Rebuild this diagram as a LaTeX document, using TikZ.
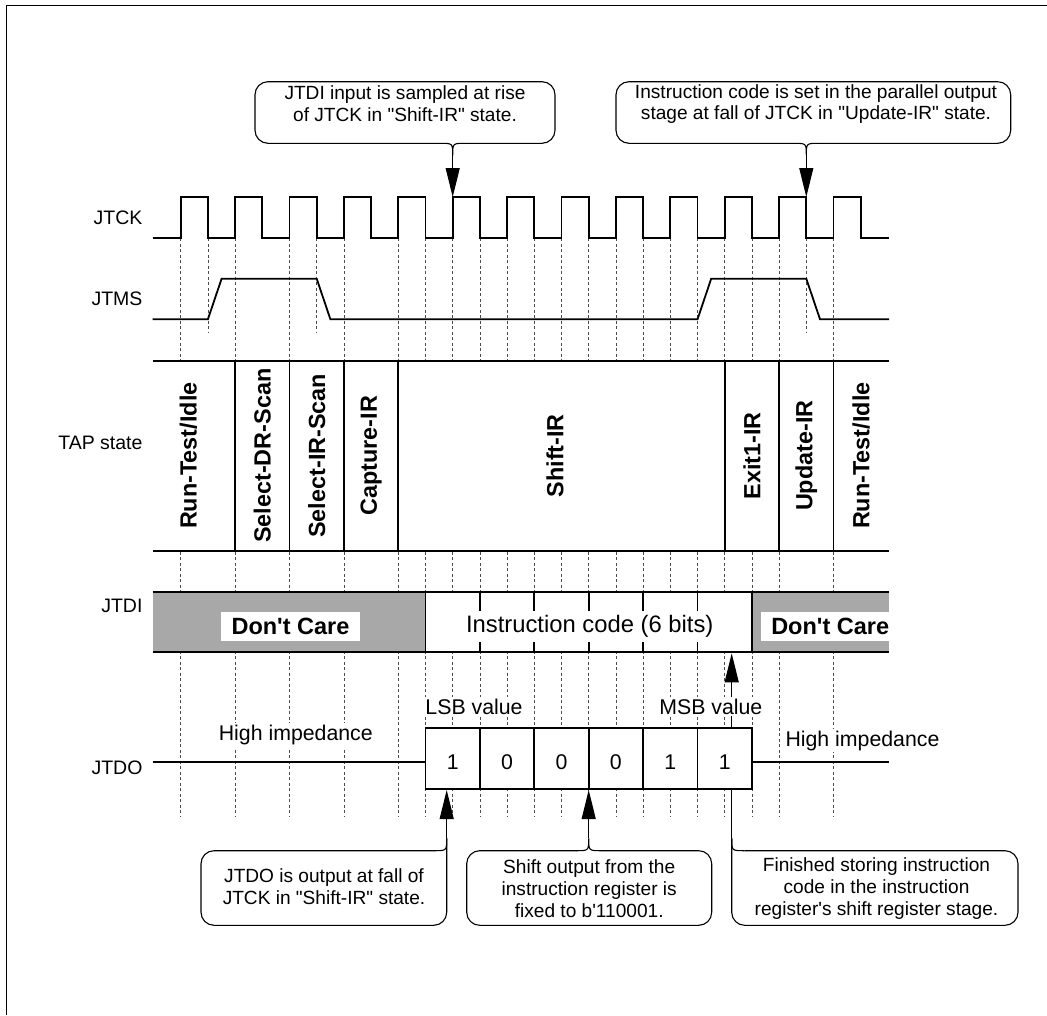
\documentclass[tikz,border=0pt]{standalone}
\usepackage{fontspec}
\setmainfont{Liberation Sans}
\usetikzlibrary{arrows.meta,calc}
\definecolor{dcgray}{HTML}{A8A8A8}

\begin{document}
\begin{tikzpicture}[x=1pt, y=-1pt,
    sig/.style={line width=1.8pt},
    grid/.style={line width=0.7pt, black!70, dash pattern=on 3pt off 2.5pt},
    note/.style={line width=1.1pt, rounded corners=13pt},
    notch/.style={line width=1.1pt},
    ptr/.style={line width=1.1pt, -{Triangle[length=29pt,width=14pt]}},
    signame/.style={anchor=east, font=\fontsize{19.5}{24}\selectfont},
    notetext/.style={align=center, font=\fontsize{19.1}{21.8}\selectfont},
    tapname/.style={rotate=90, font=\fontsize{23.4}{28}\selectfont\bfseries},
    lbl/.style={fill=white, inner sep=2pt, font=\fontsize{21.3}{25}\selectfont},
    bitval/.style={font=\fontsize{21.3}{25}\selectfont},
    dontcare/.style={fill=white, inner sep=0pt, minimum width=139pt, minimum height=28.4pt, font=\fontsize{23.5}{28}\selectfont\bfseries}
]
\useasboundingbox (0,0) rectangle (1047,1015);

% Frame
\draw[line width=1pt] (6.5,1015) -- (6.5,5) -- (1047,5);

% Dashed guides at clock edges
\foreach \k in {0,...,12} \draw[grid] ({180.7+54.4*\k},238) -- ({180.7+54.4*\k},816);
\foreach \k in {4,...,10} \draw[grid] ({207.9+54.4*\k},238) -- ({207.9+54.4*\k},816);
\foreach \k in {0,2,11} \draw[grid] ({207.9+54.4*\k},238) -- ({207.9+54.4*\k},332);

% Signal names
\node[signame] (nTCK) at (146,217.5) {JTCK};
\node[signame] (nTMS) at (146,299) {JTMS};
\node[signame] (nTAP) at (146,443) {TAP state};
\node[signame] (nTDI) at (146,606) {JTDI};
\node[signame] (nTDO) at (146,768) {JTDO};

% JTCK
\draw[sig] (152.7,238) foreach \k in {0,...,12} { -- ({180.7+54.4*\k},238) -- ++(0,-41) -- ++(27.2,0) -- ++(0,41) } -- (889,238);

% JTMS
\draw[sig] (152.7,319.3) -- (207.9,319.3) -- (221.6,278.7) -- (316.7,278.7) -- (330.4,319.3)
    -- (697.5,319.3) -- (711.2,278.7) -- (806.3,278.7) -- (820,319.3) -- (889,319.3);

% TAP state
\fill[white] (152.7,360.7) rectangle (889,550.7);
\draw[sig] (152.7,360.7) -- (889,360.7) (152.7,550.7) -- (889,550.7);
\foreach \x in {235.1,289.5,343.9,398.3,724.7,779.1,833.5} \draw[sig] (\x,360.7) -- (\x,550.7);
\node[tapname] (tapRun) at (188.3,455.7) {Run-Test/Idle};
\node[tapname] (tapSelDR) at (262.3,455.7) {Select-DR-Scan};
\node[tapname] (tapSelIR) at (316.7,455.7) {Select-IR-Scan};
\node[tapname] (tapCap) at (371.1,455.7) {Capture-IR};
\node[tapname] (tapShift) at (555,455.7) {Shift-IR};
\node[tapname] (tapExit) at (751.9,455.7) {Exit1-IR};
\node[tapname] (tapUpd) at (806.3,455.7) {Update-IR};
\node[tapname] (tapIdle) at (861.2,455.7) {Run-Test/Idle};

% JTDI
\fill[dcgray] (152.7,592) rectangle (425.5,652.3);
\fill[white] (425.5,592) rectangle (751.9,652.3);
\fill[dcgray] (751.9,592) rectangle (889,652.3);
\foreach \x in {479.9,534.3,588.7,643.1,697.5} \draw[sig] (\x,592) -- (\x,652.3);
\draw[sig] (152.7,592) -- (889,592) (152.7,652.3) -- (889,652.3)
    (425.5,592) -- (425.5,652.3) (751.9,592) -- (751.9,652.3);
\node[dontcare] (careL) at (290.5,626.5) {Don\textquotesingle t Care};
\begin{scope}
  \clip (751.9,592) rectangle (889,652.3);
  \node[dontcare, anchor=west] (careR) at (760.5,626.5) {Don\textquotesingle t Care};
\end{scope}
\node[lbl, inner xsep=5pt, inner ysep=4pt, font=\fontsize{23.8}{28}\selectfont] (instr) at (589.7,626.5) {Instruction code (6 bits)};

% Callout pointers
\coordinate (sampleTip) at (452.7,155.3);
\coordinate (tckRise) at (452.7,197);
\coordinate (updateTip) at (806.3,155.3);
\coordinate (tckFall) at (806.3,197);
\coordinate (outTip) at (446.7,838.3);
\coordinate (outEdge) at (446.7,790);
\coordinate (fixedTip) at (588.7,838.3);
\coordinate (fixedEdge) at (588.7,790);
\coordinate (doneTip) at (731.7,838.3);
\coordinate (doneEdge) at (731.7,653.3);
\draw[ptr] (sampleTip) -- (tckRise);
\draw[ptr] (updateTip) -- (tckFall);
\draw[ptr] (outTip) -- (outEdge);
\draw[ptr] (fixedTip) -- (fixedEdge);
\draw[ptr] (doneTip) -- (doneEdge);

% JTDO
\draw[sig] (152.7,761.7) -- (425.5,761.7) (751.9,761.7) -- (889,761.7);
\draw[sig, fill=white] (425.5,727.7) rectangle (751.9,789);
\foreach \x in {479.9,534.3,588.7,643.1,697.5} \draw[sig] (\x,727.7) -- (\x,789);
\foreach \v [count=\i from 0] in {1,0,0,0,1,1} \node[bitval] (bit\i) at ({452.7+54.4*\i},762.5) {\v};
\node[lbl] (lsb) at (474,706.5) {LSB value};
\node[lbl] (msb) at (710.8,706.5) {MSB value};
\node[lbl] (hizL) at (295.8,735) {High impedance};
\node[lbl] (hizR) at (862.5,740.5) {High impedance};

% Top callouts
\draw[note] (440.2,143.3) -- (255,143.3) -- (255,81.7) -- (555,81.7) -- (555,143.3) -- (465.2,143.3);
\draw[notch] (440.2,143.3) .. controls (452.7,143.3) .. (sampleTip) .. controls (452.7,143.3) .. (465.2,143.3);
\node[notetext] (sampleNote) at (405,104) {JTDI input is sampled at rise\\of JTCK in \textquotedbl Shift-IR\textquotedbl{} state.};

\draw[note] (793.8,143.3) -- (616,143.3) -- (616,81.7) -- (1010.7,81.7) -- (1010.7,143.3) -- (818.8,143.3);
\draw[notch] (793.8,143.3) .. controls (806.3,143.3) .. (updateTip) .. controls (806.3,143.3) .. (818.8,143.3);
\node[notetext] (updateNote) at (816,104) {Instruction code is set in the parallel output\\stage at fall of JTCK in \textquotedbl Update-IR\textquotedbl{} state.};

% Bottom callouts
\draw[note] (434,850.7) -- (201,850.7) -- (201,925.3) -- (446.7,925.3) -- (outTip);
\draw[notch] (434,850.7) .. controls (446.7,850.7) .. (outTip);
\node[notetext] (outNote) at (324,887) {JTDO is output at fall of\\JTCK in \textquotedbl Shift-IR\textquotedbl{} state.};

\draw[note] (576.2,850.7) -- (466.7,850.7) -- (466.7,925.3) -- (711.7,925.3) -- (711.7,850.7) -- (601.2,850.7);
\draw[notch] (576.2,850.7) .. controls (588.7,850.7) .. (fixedTip) .. controls (588.7,850.7) .. (601.2,850.7);
\node[notetext] (fixedNote) at (589.2,888.5) {Shift output from the\\instruction register is\\fixed to b\textquotesingle 110001.};

\draw[note] (744.4,850.7) -- (1018,850.7) -- (1018,925.3) -- (731.7,925.3) -- (doneTip);
\draw[notch] (744.4,850.7) .. controls (731.7,850.7) .. (doneTip);
\node[notetext] (doneNote) at (876.5,888.5) {Finished storing instruction\\code in the instruction\\register\textquotesingle s shift register stage.};
\end{tikzpicture}
\end{document}
